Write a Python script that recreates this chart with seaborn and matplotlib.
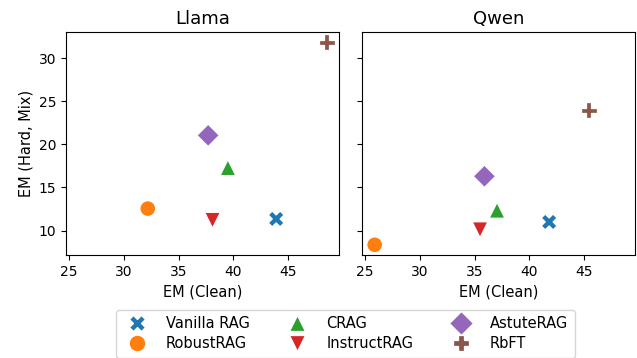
import pandas as pd
import matplotlib
matplotlib.use("Agg")
import matplotlib.pyplot as plt
import seaborn as sns

methods = ["Vanilla RAG", "RobustRAG", "CRAG", "InstructRAG", "AstuteRAG", "RbFT"]

llama_clean = [43.9, 32.2, 39.5, 38.1, 37.7, 48.5]
llama_hard = [11.35, 12.55, 17.3, 11.2, 21.05, 31.85]

qwen_clean = [41.8, 25.9, 37.05, 35.5, 35.9, 45.4]
qwen_hard = [11.0, 8.35, 12.35, 10.1, 16.3, 23.95]

markers = {"Vanilla RAG": "X", "RobustRAG": "o", "CRAG": "^",
           "InstructRAG": "v", "AstuteRAG": "D", "RbFT": "P"}
palette = dict(zip(methods, sns.color_palette("tab10", 6)))

df = pd.concat([
    pd.DataFrame({"model": "Llama", "method": methods, "clean": llama_clean, "hard": llama_hard}),
    pd.DataFrame({"model": "Qwen", "method": methods, "clean": qwen_clean, "hard": qwen_hard}),
])

plt.rcParams["font.size"] = 10
fig, axes = plt.subplots(1, 2, figsize=(6.37, 3.58), dpi=100, sharex=True, sharey=True)

for ax, model in zip(axes, ["Llama", "Qwen"]):
    sub = df[df["model"] == model]
    sns.scatterplot(data=sub, x="clean", y="hard", hue="method", style="method",
                    markers=markers, palette=palette, hue_order=methods,
                    style_order=methods, s=130, ax=ax)
    ax.set_title(model, fontsize=13)
    ax.set_xlabel("EM (Clean)", fontsize=10.5)
    ax.set_ylabel("EM (Hard, Mix)", fontsize=10.5)
    ax.set_xticks([25, 30, 35, 40, 45])
    ax.set_yticks([10, 15, 20, 25, 30])

handles, labels = axes[0].get_legend_handles_labels()
for a in axes:
    a.get_legend().remove()
for h in handles:
    h.set_markersize(12)

fig.legend(handles, labels, loc="lower center", ncol=3, fontsize=10.5,
           bbox_to_anchor=(0.542, -0.02), columnspacing=2.25, handletextpad=1.0,
           handlelength=2.0, labelspacing=0.35, borderpad=0.45)

fig.subplots_adjust(left=0.104, right=0.997, top=0.91, bottom=0.288, wspace=0.085)
fig.savefig("out.png", dpi=100)
